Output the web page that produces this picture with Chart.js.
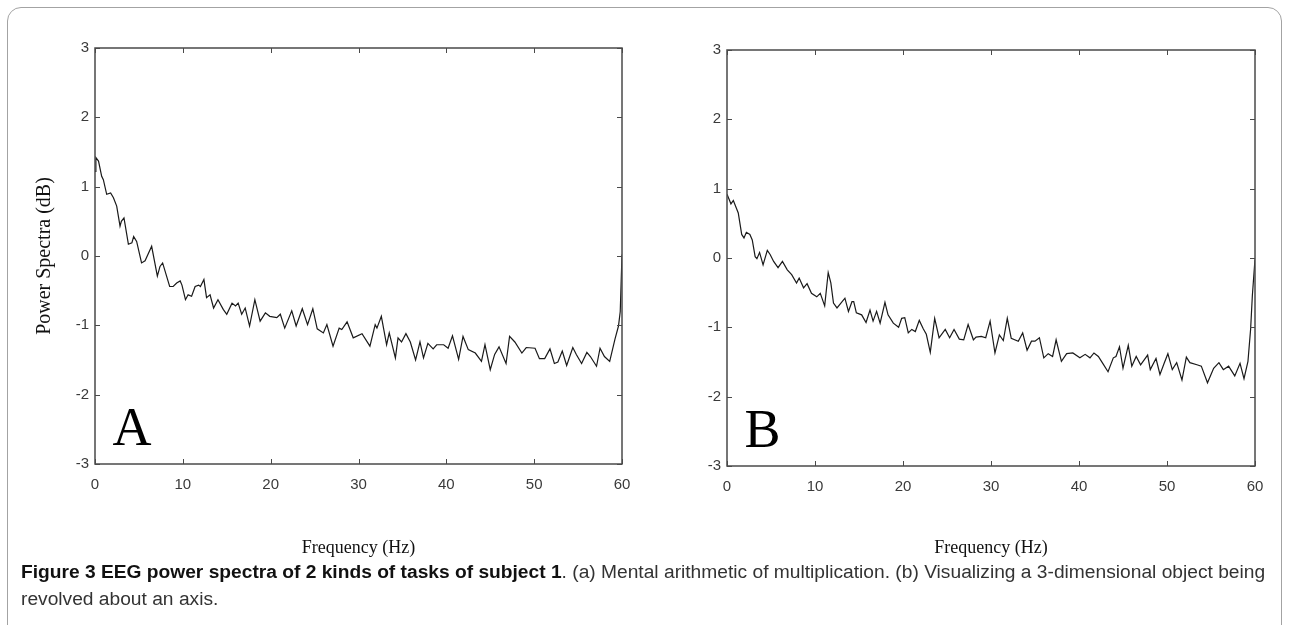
<!DOCTYPE html>
<html>
<head>
<meta charset="utf-8">
<script src="https://cdn.jsdelivr.net/npm/chart.js@4.4.1/dist/chart.umd.min.js"></script>
<style>
  html, body { margin: 0; padding: 0; background: #fff; }
  #page { position: relative; width: 1289px; height: 625px; overflow: hidden; }
  #frame { position: absolute; left: 7px; top: 7px; width: 1275px; height: 640px;
           border: 1px solid #a3a3a3; border-radius: 14px; box-sizing: border-box; }
  #boxA { position: absolute; left: 0; top: 0; width: 645px; height: 570px; }
  #boxB { position: absolute; left: 640px; top: 0; width: 649px; height: 570px; }
  #caption { position: absolute; left: 21px; top: 559px; font-family: "Liberation Sans", Arial, sans-serif;
             font-size: 18px; line-height: 27px; color: #333; }
  #caption .ln { display: inline-block; white-space: nowrap; transform-origin: 0 50%; }
  #caption b { color: #111; }
</style>
</head>
<body>
<div id="page">
  <div id="frame"></div>
  <div id="boxA"><canvas id="chartA"></canvas></div>
  <div id="boxB"><canvas id="chartB"></canvas></div>
  <div id="caption">
    <span class="ln" id="cap1"><b>Figure 3 EEG power spectra of 2 kinds of tasks of subject 1</b>. (a) Mental arithmetic of multiplication. (b) Visualizing a 3-dimensional object being</span><br>
    <span class="ln" id="cap2">revolved about an axis.</span>
  </div>
</div>
<script>
// Frequency ticks / power ticks shared by both panels
var X_TICKS = [0, 10, 20, 30, 40, 50, 60];
var Y_TICKS = [-3, -2, -1, 0, 1, 2, 3];

// (a) mental arithmetic of multiplication
var freqA = [0, 0.1, 0.4, 0.76, 0.95, 1.33, 1.78, 2.1, 2.47, 2.85, 3.0, 3.3, 3.8, 4.2, 4.4, 4.74, 5.3, 5.7, 6.45, 7.1,
  7.4, 7.7, 8.5, 8.9, 9.3, 9.7, 9.9, 10.3, 10.6, 11.0, 11.4, 11.8, 12.0, 12.4, 12.7, 13.1, 13.5, 14.0, 14.6, 15.0,
  15.6, 16.0, 16.3, 16.7, 17.1, 17.6, 18.2, 18.8, 19.4, 19.9, 20.7, 21.1, 21.6, 22.4, 22.9, 23.6, 24.2, 24.8, 25.3, 26.0,
  26.4, 27.1, 27.8, 28.1, 28.7, 29.4, 30.4, 31.3, 31.9, 32.1, 32.6, 33.2, 33.5, 34.2, 34.5, 34.9, 35.4, 35.9, 36.5, 37.0,
  37.4, 37.9, 38.5, 38.9, 39.7, 40.2, 40.7, 41.4, 41.9, 42.5, 43.3, 44.0, 44.4, 45.0, 45.5, 46.0, 46.8, 47.2, 47.8, 48.6,
  49.1, 50.1, 50.6, 51.2, 51.8, 52.3, 52.7, 53.2, 53.7, 54.4, 54.8, 55.4, 56.0, 56.4, 57.1, 57.5, 58.0, 58.6, 59.2, 59.6,
  59.8, 60.0];
var powerA = [1.22, 1.42, 1.37, 1.15, 1.10, 0.89, 0.91, 0.84, 0.72, 0.43, 0.50, 0.55, 0.17, 0.19, 0.28, 0.21, -0.10, -0.07, 0.14, -0.29,
  -0.15, -0.10, -0.44, -0.44, -0.39, -0.36, -0.42, -0.63, -0.56, -0.58, -0.44, -0.42, -0.44, -0.34, -0.60, -0.56, -0.75, -0.63, -0.77, -0.84,
  -0.68, -0.72, -0.68, -0.84, -0.75, -1.01, -0.63, -0.94, -0.82, -0.87, -0.89, -0.84, -1.04, -0.79, -1.01, -0.76, -0.99, -0.76, -1.05, -1.11,
  -0.99, -1.30, -1.04, -1.06, -0.95, -1.18, -1.12, -1.30, -0.99, -1.04, -0.87, -1.28, -1.11, -1.47, -1.18, -1.24, -1.12, -1.24, -1.50, -1.24,
  -1.47, -1.26, -1.34, -1.28, -1.28, -1.33, -1.15, -1.49, -1.16, -1.35, -1.40, -1.52, -1.28, -1.64, -1.42, -1.31, -1.55, -1.16, -1.24, -1.40,
  -1.32, -1.33, -1.48, -1.48, -1.34, -1.55, -1.53, -1.37, -1.58, -1.32, -1.42, -1.55, -1.39, -1.45, -1.59, -1.33, -1.45, -1.52, -1.20, -1.01,
  -0.80, 0.02];

// (b) visualizing a rotating 3-D object
var freqB = [0, 0.26, 0.45, 0.72, 1.28, 1.67, 1.93, 2.2, 2.6, 2.87, 3.2, 3.4, 3.7, 4.1, 4.58, 4.9, 5.3, 5.8, 6.3, 6.85,
  7.35, 7.9, 8.2, 8.7, 9.1, 9.6, 10.2, 10.6, 11.1, 11.5, 11.8, 12.1, 12.5, 13.4, 13.8, 14.2, 14.4, 14.7, 15.3, 15.8,
  16.25, 16.6, 17.0, 17.4, 17.95, 18.3, 18.9, 19.5, 19.85, 20.2, 20.6, 21.0, 21.4, 21.85, 22.3, 22.65, 23.1, 23.6, 24.1, 24.8,
  25.3, 25.8, 26.4, 26.9, 27.4, 28.0, 28.3, 28.9, 29.4, 29.9, 30.45, 30.95, 31.4, 31.85, 32.3, 33.1, 33.6, 34.1, 34.6, 35.0,
  35.5, 36.0, 36.5, 37.0, 37.4, 38.0, 38.6, 39.3, 40.1, 40.7, 41.25, 41.7, 42.2, 42.7, 43.3, 43.9, 44.2, 44.6, 45.0, 45.6,
  46.0, 46.5, 47.0, 47.8, 48.1, 48.75, 49.2, 49.7, 50.1, 50.6, 51.1, 51.7, 52.2, 52.6, 53.4, 53.9, 54.6, 55.3, 55.9, 56.4,
  57.0, 57.7, 58.3, 58.75, 59.2, 59.5, 59.7, 60.0];
var powerB = [0.92, 0.84, 0.78, 0.83, 0.65, 0.34, 0.29, 0.37, 0.34, 0.26, 0.02, -0.01, 0.08, -0.10, 0.11, 0.05, -0.05, -0.14, -0.05, -0.17,
  -0.24, -0.36, -0.29, -0.43, -0.37, -0.51, -0.56, -0.51, -0.69, -0.21, -0.36, -0.65, -0.72, -0.58, -0.77, -0.63, -0.63, -0.79, -0.82, -0.93,
  -0.75, -0.91, -0.77, -0.94, -0.64, -0.82, -0.94, -1.00, -0.87, -0.86, -1.08, -1.03, -1.06, -0.90, -1.02, -1.10, -1.36, -0.87, -1.15, -1.03,
  -1.15, -1.03, -1.17, -1.18, -0.96, -1.18, -1.14, -1.13, -1.15, -0.91, -1.37, -1.11, -1.19, -0.87, -1.16, -1.20, -1.08, -1.33, -1.20, -1.20,
  -1.15, -1.44, -1.38, -1.42, -1.18, -1.49, -1.38, -1.37, -1.44, -1.39, -1.44, -1.37, -1.42, -1.52, -1.64, -1.44, -1.42, -1.28, -1.59, -1.26,
  -1.56, -1.42, -1.54, -1.40, -1.61, -1.45, -1.68, -1.51, -1.38, -1.61, -1.51, -1.76, -1.43, -1.51, -1.54, -1.56, -1.80, -1.59, -1.51, -1.61,
  -1.56, -1.70, -1.52, -1.74, -1.49, -1.03, -0.54, -0.02];

var AXIS_COLOR = '#4a4a4a';
var LINE_COLOR = '#1a1a1a';
var TICK_FONT = { family: '"Liberation Sans", Arial, sans-serif', size: 15 };
var TITLE_FONT = { family: '"Liberation Serif", "Times New Roman", serif', size: 18 };
var YTITLE_FONT = { family: '"Liberation Serif", "Times New Roman", serif', size: 20 };

// matlab-style box with inward ticks + big panel letter
var boxPlugin = {
  id: 'matlabBox',
  afterDatasetsDraw: function(chart, args, opts) {
    var ctx = chart.ctx, a = chart.chartArea;
    var xs = chart.scales.x, ys = chart.scales.y;
    ctx.save();
    ctx.strokeStyle = AXIS_COLOR;
    ctx.lineWidth = 1.5;
    ctx.strokeRect(a.left, a.top, a.right - a.left, a.bottom - a.top);
    ctx.lineWidth = 1;
    ctx.beginPath();
    X_TICKS.forEach(function(v) {
      var px = Math.round(xs.getPixelForValue(v)) + 0.5;
      ctx.moveTo(px, a.bottom); ctx.lineTo(px, a.bottom - 5);
      ctx.moveTo(px, a.top);    ctx.lineTo(px, a.top + 5);
    });
    Y_TICKS.forEach(function(v) {
      var py = Math.round(ys.getPixelForValue(v)) + 0.5;
      ctx.moveTo(a.left, py);  ctx.lineTo(a.left + 5, py);
      ctx.moveTo(a.right, py); ctx.lineTo(a.right - 5, py);
    });
    ctx.stroke();
    ctx.fillStyle = '#000';
    ctx.font = '54px "Liberation Serif", "Times New Roman", serif';
    ctx.textBaseline = 'alphabetic';
    ctx.fillText(opts.letter, xs.getPixelForValue(2.0), ys.getPixelForValue(-2.73));
    ctx.restore();
  }
};

function makeChart(id, freq, power, cfg) {
  var pts = freq.map(function(f, i) { return { x: f, y: power[i] }; });
  return new Chart(document.getElementById(id), {
    type: 'line',
    data: { datasets: [{ data: pts, borderColor: LINE_COLOR, borderWidth: 1.2, pointRadius: 0, tension: 0, fill: false }] },
    plugins: [boxPlugin],
    options: {
      responsive: true,
      maintainAspectRatio: false,
      animation: false,
      devicePixelRatio: 1,
      layout: { padding: { top: cfg.top, right: cfg.right, left: 0, bottom: 0 } },
      plugins: {
        legend: { display: false },
        tooltip: { enabled: false },
        matlabBox: { letter: cfg.letter }
      },
      scales: {
        x: {
          type: 'linear', min: 0, max: 60,
          grid: { display: false }, border: { display: false },
          afterBuildTicks: function(s) { s.ticks = X_TICKS.map(function(v) { return { value: v }; }); },
          afterFit: function(s) { s.height = cfg.xHeight; },
          ticks: { color: '#3a3a3a', font: TICK_FONT, padding: 4, maxRotation: 0 },
          title: { display: true, text: 'Frequency (Hz)', color: '#111', font: TITLE_FONT, padding: { top: 0, bottom: 11 } }
        },
        y: {
          min: -3, max: 3,
          grid: { display: false, tickLength: 0 }, border: { display: false },
          afterBuildTicks: function(s) { s.ticks = Y_TICKS.map(function(v) { return { value: v }; }); },
          afterFit: function(s) { s.width = cfg.yWidth; },
          ticks: { color: '#3a3a3a', font: TICK_FONT, padding: 6 },
          title: { display: cfg.yTitle, text: 'Power Spectra (dB)', color: '#111', font: YTITLE_FONT, padding: { top: 33, bottom: 0 } }
        }
      }
    }
  });
}

makeChart('chartA', freqA, powerA, { top: 48, right: 23, xHeight: 106, yWidth: 95, yTitle: true, letter: 'A' });
makeChart('chartB', freqB, powerB, { top: 50, right: 34, xHeight: 104, yWidth: 87, yTitle: false, letter: 'B' });

// squeeze caption lines to the width of the reference (condensed face)
(function() {
  var l1 = document.getElementById('cap1'), l2 = document.getElementById('cap2');
  var k = 1244 / l1.offsetWidth;
  l1.style.transform = 'scaleX(' + k + ')';
  l2.style.transform = 'scaleX(' + k + ')';
})();
</script>
</body>
</html>
